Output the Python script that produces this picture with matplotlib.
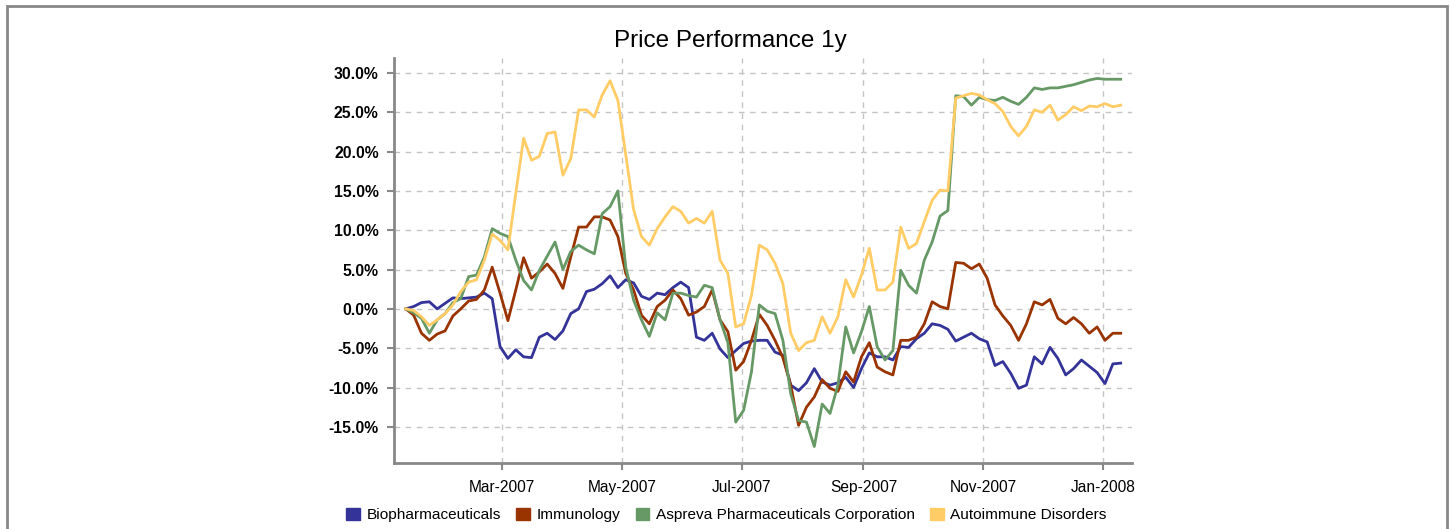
import matplotlib
matplotlib.use("Agg")
import matplotlib.pyplot as plt
import matplotlib.dates as mdates
from matplotlib.patches import Patch, Rectangle
from matplotlib.ticker import FuncFormatter
import pandas as pd

plt.rcParams['font.family'] = ['Liberation Sans', 'DejaVu Sans']

title = "Price Performance 1y"
start_date = "2007-01-11"
step = "4D"
series_names = ["Biopharmaceuticals", "Immunology",
                "Aspreva Pharmaceuticals Corporation", "Autoimmune Disorders"]
colors = ["#333399", "#993300", "#669966", "#FFCC66"]
y_ticks = [-15, -10, -5, 0, 5, 10, 15, 20, 25, 30]

biopharma = [0.0, 0.3, 0.8, 0.9, 0.0, 0.7, 1.4, 1.3, 1.4, 1.5, 2.0, 1.3, -4.8, -6.3, -5.2, -6.1, -6.2, -3.6,
             -3.1, -3.9, -2.8, -0.6, 0.0, 2.2, 2.5, 3.2, 4.2, 2.7, 3.7, 3.3, 1.6, 1.2, 2.0, 1.8, 2.7, 3.4, 2.7,
             -3.6, -4.0, -3.1, -5.1, -6.2, -5.3, -4.4, -4.1, -4.0, -4.0, -5.5, -5.9, -9.7, -10.4, -9.4, -7.6, -9.3, -9.7,
             -9.4, -8.7, -10.0, -7.6, -5.6, -6.1, -6.1, -6.5, -4.8, -4.9, -3.8, -3.1, -1.9, -2.1, -2.6, -4.1, -3.6, -3.1, -3.8,
             -4.2, -7.2, -6.7, -8.2, -10.1, -9.7, -6.1, -7.0, -4.9, -6.3, -8.4, -7.6, -6.5, -7.3, -8.1, -9.5, -7.0, -6.9]

immunology = [0.0, -0.8, -3.1, -4.0, -3.2, -2.8, -0.9, 0.0, 1.0, 1.2, 2.4, 5.3, 2.0, -1.5, 2.4, 6.5, 3.9, 4.7,
              5.7, 4.5, 2.6, 6.6, 10.4, 10.4, 11.7, 11.7, 11.3, 9.2, 4.5, 2.4, -0.8, -1.9, 0.3, 1.1, 2.4, 1.3, -0.8,
              -0.4, 0.3, 2.4, -1.4, -2.9, -7.8, -6.7, -4.0, -0.7, -2.1, -4.0, -6.2, -9.7, -14.8, -12.5, -11.2, -9.0, -10.1,
              -10.5, -8.0, -9.3, -6.1, -4.3, -7.4, -8.0, -8.4, -4.0, -4.0, -3.6, -1.9, 0.9, 0.3, 0.0, 5.9, 5.8, 5.1, 5.7,
              3.9, 0.5, -0.9, -2.1, -4.0, -1.9, 0.9, 0.5, 1.2, -1.2, -1.9, -1.1, -1.9, -3.1, -2.3, -4.0, -3.1, -3.1]

aspreva = [0.0, -0.5, -1.2, -3.1, -1.4, -0.6, 0.8, 1.3, 4.1, 4.3, 6.6, 10.2, 9.6, 9.2, 6.2, 3.6, 2.4, 4.9,
           6.7, 8.5, 5.0, 7.3, 8.1, 7.5, 7.0, 12.1, 13.0, 15.0, 5.3, 1.1, -1.4, -3.5, -0.5, -1.4, 2.0, 2.0, 1.7,
           1.5, 3.0, 2.7, -1.4, -4.3, -14.4, -12.9, -8.0, 0.5, -0.3, -0.6, -4.0, -10.8, -14.2, -14.4, -17.5, -12.1, -13.3,
           -9.7, -2.3, -5.6, -2.9, 0.3, -4.8, -6.5, -5.3, 4.9, 3.0, 2.0, 6.2, 8.5, 11.8, 12.5, 27.1, 27.0, 25.9, 26.9,
           26.6, 26.5, 26.9, 26.4, 26.0, 26.9, 28.1, 27.9, 28.1, 28.1, 28.3, 28.5, 28.8, 29.1, 29.3, 29.2, 29.2, 29.2]

autoimmune = [0.0, -0.2, -1.0, -2.1, -1.4, -0.6, 0.5, 2.2, 3.4, 3.7, 6.2, 9.5, 8.7, 7.5, 14.7, 21.7, 18.9, 19.4,
              22.3, 22.5, 17.0, 19.1, 25.3, 25.3, 24.4, 27.2, 29.0, 26.5, 19.6, 12.6, 9.2, 8.1, 10.2, 11.7, 13.0, 12.4, 10.9,
              11.5, 10.9, 12.4, 6.2, 4.5, -2.3, -1.9, 1.7, 8.1, 7.5, 5.8, 3.2, -3.1, -5.3, -4.3, -4.0, -1.0, -3.1,
              -1.0, 3.7, 1.5, 4.3, 7.7, 2.4, 2.4, 3.4, 10.4, 7.7, 8.3, 11.1, 13.8, 15.1, 15.0, 26.8, 27.1, 27.4, 27.2,
              26.6, 26.1, 25.1, 23.2, 22.0, 23.2, 25.3, 25.0, 25.9, 24.0, 24.7, 25.7, 25.2, 25.8, 25.7, 26.1, 25.7, 25.9]

all_series = [biopharma, immunology, aspreva, autoimmune]
dates = pd.date_range(start_date, periods=len(biopharma), freq=step)

fig = plt.figure(figsize=(14.5, 5.29), dpi=100)
ax = fig.add_axes([394 / 1450, 1 - 463 / 529, (1132 - 394) / 1450, (463 - 58) / 529])

for i, (vals, c) in enumerate(zip(all_series, colors)):
    ax.plot(dates, vals, color=c, lw=2.0, zorder=3 + i, solid_joinstyle='round')

ax.set_xlim(pd.Timestamp("2007-01-05"), pd.Timestamp("2008-01-15 18:00"))
ax.set_ylim(-19.6, 31.9)

ax.set_yticks(y_ticks)
ax.yaxis.set_major_formatter(FuncFormatter(lambda v, p: f"{v:.1f}%"))
ax.xaxis.set_major_locator(mdates.MonthLocator(bymonth=[1, 3, 5, 7, 9, 11]))
ax.xaxis.set_major_formatter(mdates.DateFormatter("%b-%Y"))

for s in ["top", "right"]:
    ax.spines[s].set_visible(False)
for s in ["left", "bottom"]:
    ax.spines[s].set_color("#888888")
    ax.spines[s].set_linewidth(2)

ax.grid(True, color="#c4c4c4", linestyle=(0, (4, 4)), linewidth=1)
ax.set_axisbelow(True)
ax.tick_params(axis="y", colors="#888888", length=5, width=1.5, pad=6, labelcolor="black", labelsize=11.3)
ax.tick_params(axis="x", colors="#888888", length=5, width=1.5, pad=7, labelcolor="black", labelsize=11.2)
for lbl in ax.get_yticklabels():
    lbl.set_fontweight("bold")

fig.text(0.504, 1 - 41 / 529, title, ha="center", va="center", fontsize=17.5)

handles = [Patch(facecolor=c, edgecolor=c) for c in colors]
fig.legend(handles, series_names, loc="center", bbox_to_anchor=(0.501, 1 - 515 / 529), ncol=4,
           frameon=False, fontsize=11.1, handlelength=0.9, handleheight=0.9, handletextpad=0.4,
           columnspacing=1.0, borderaxespad=0)

fig.patches.append(Rectangle((6.5 / 1450, -0.1), 1440.5 / 1450, 1.1 - 6.5 / 529, transform=fig.transFigure,
                             fill=False, edgecolor="#888888", linewidth=2))

fig.savefig("out.png", dpi=100)
